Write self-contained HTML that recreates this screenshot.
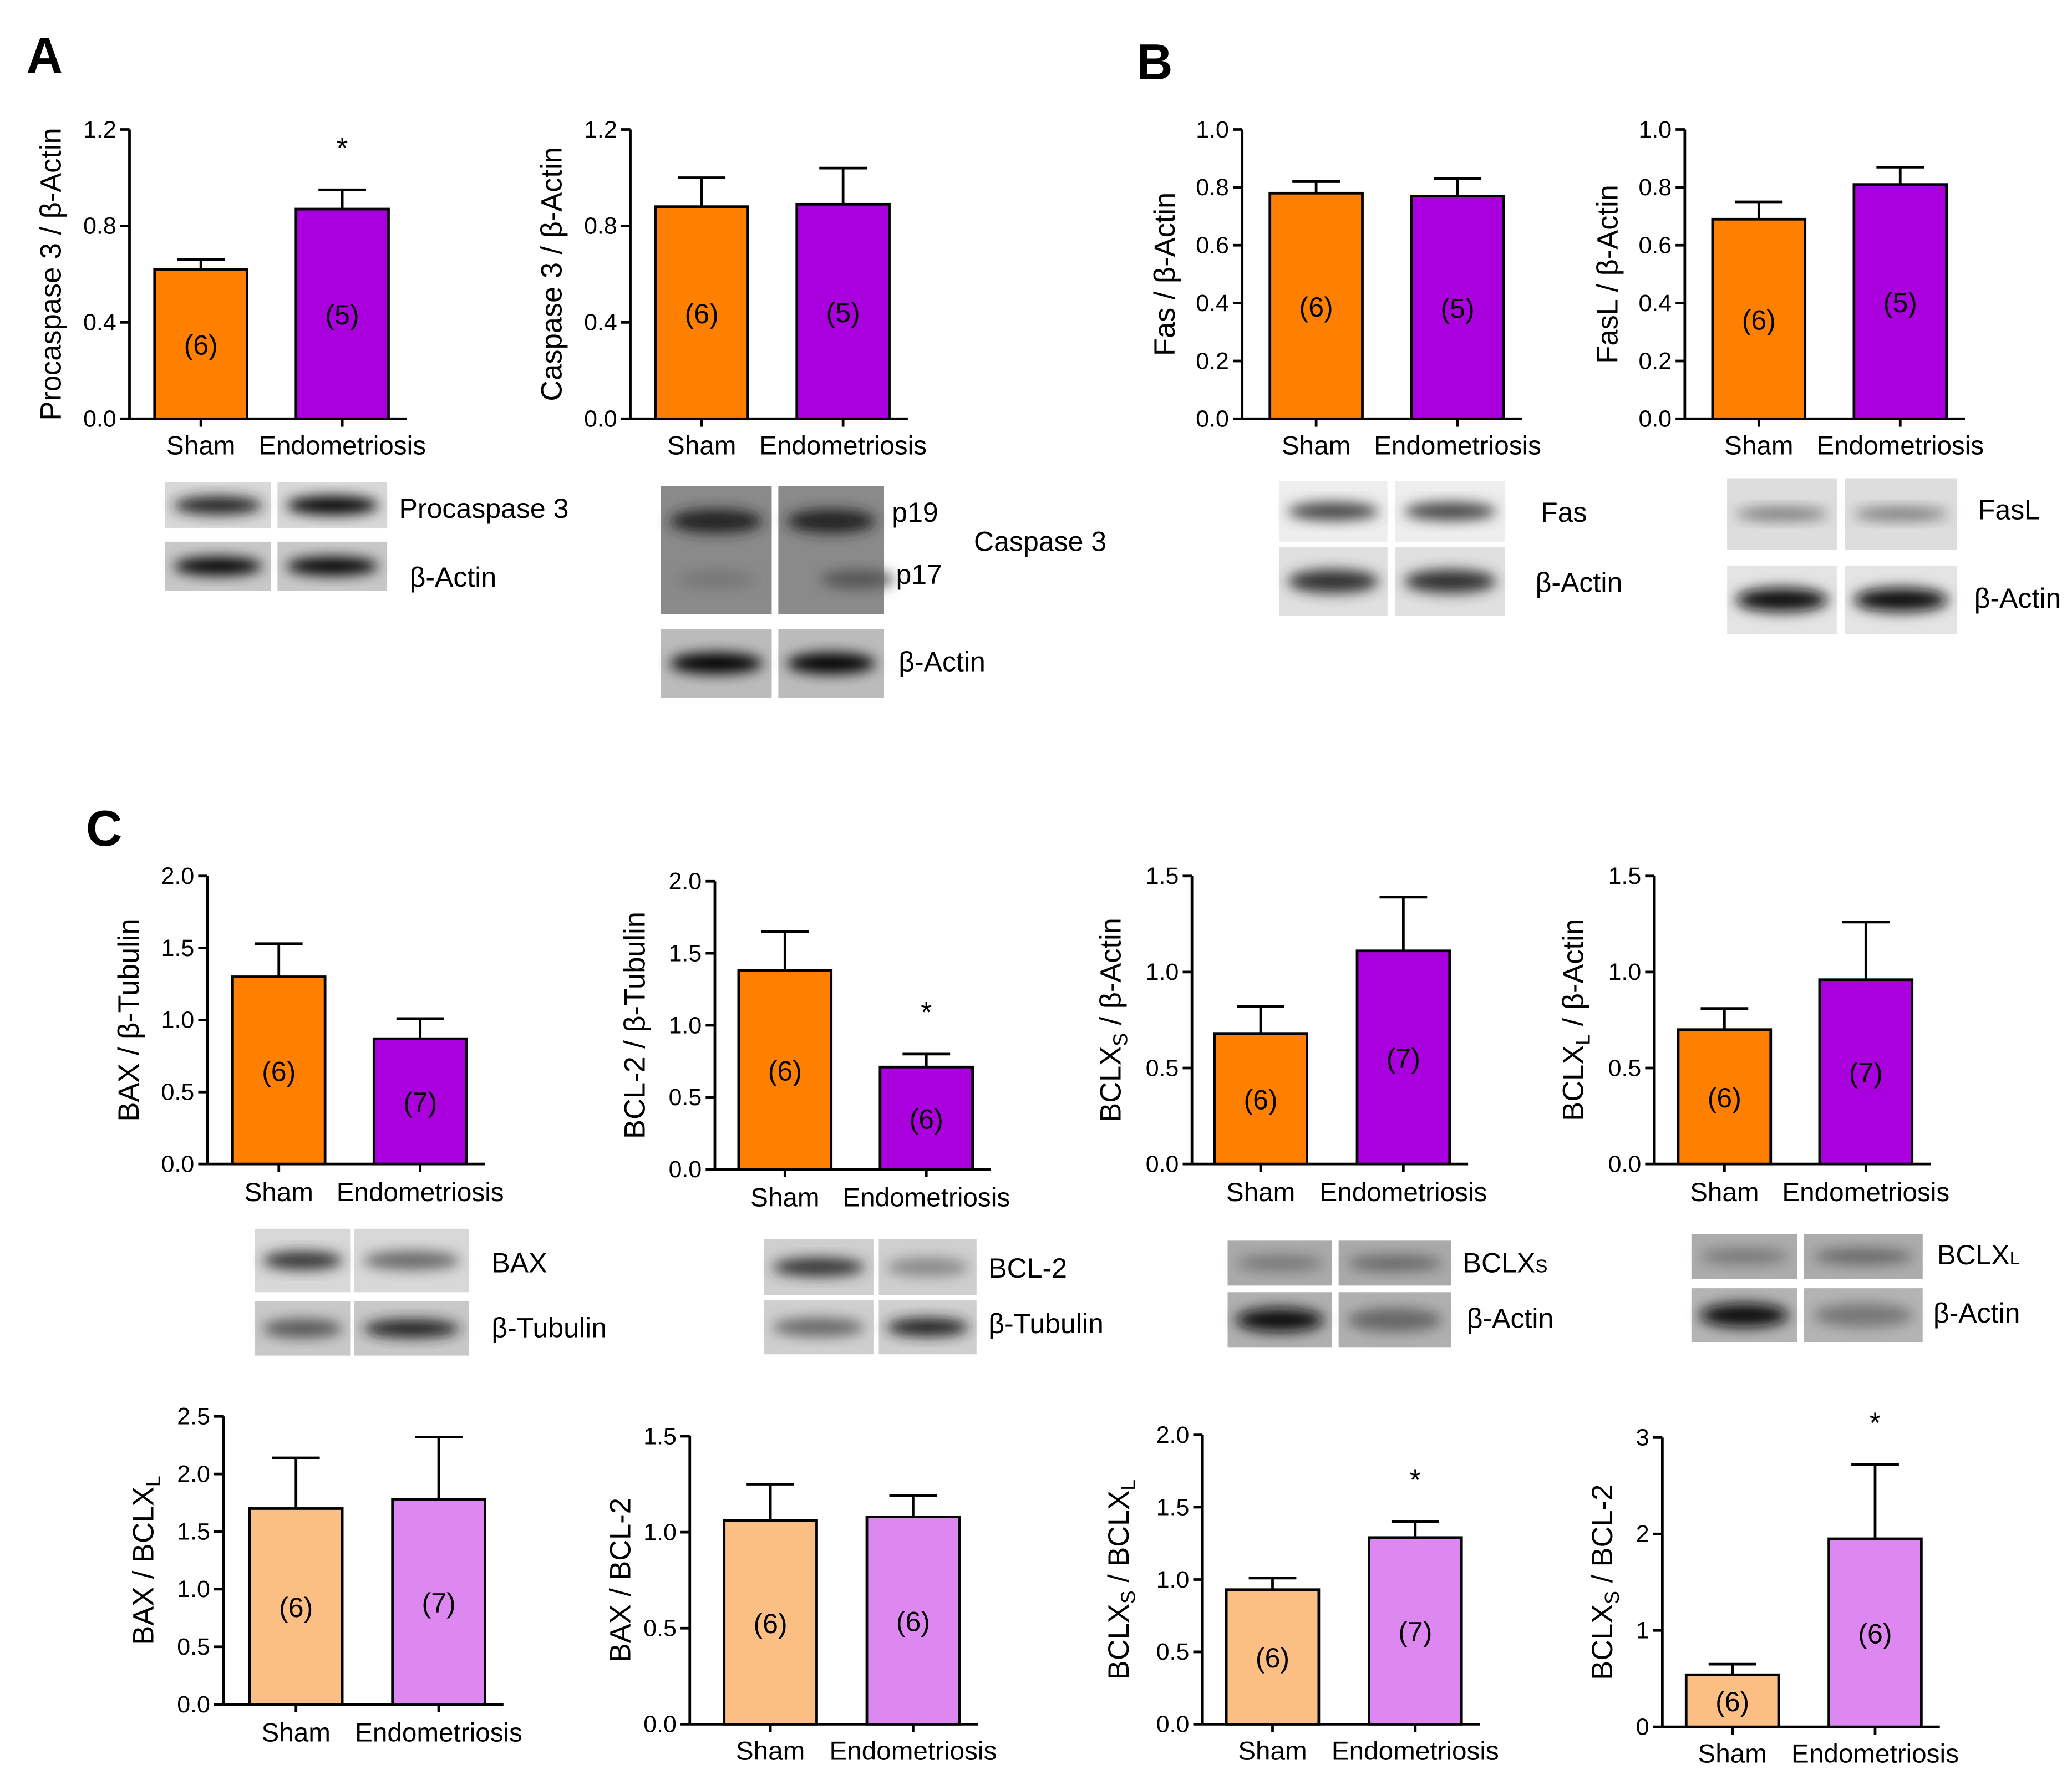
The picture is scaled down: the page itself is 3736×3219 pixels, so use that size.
<!DOCTYPE html>
<html><head><meta charset="utf-8"><style>
html,body{margin:0;padding:0;background:#fff}
svg{display:block}
text{font-family:"Liberation Sans",Arial,sans-serif;fill:#000}
</style></head><body>
<svg id="fig" width="3736" height="3219" viewBox="0 0 1568 1351" xmlns="http://www.w3.org/2000/svg">
<defs>
<filter id="blur" x="-30%" y="-60%" width="160%" height="220%"><feGaussianBlur stdDeviation="5"/></filter>
</defs>
<text x="20" y="55" font-size="38" font-weight="bold">A</text>
<text x="860" y="60" font-size="38" font-weight="bold">B</text>
<text x="65" y="640" font-size="38" font-weight="bold">C</text>
<g id="charts"></g>
<g id="blots"></g>
</svg>
<script>
const categories=['Sham','Endometriosis'];
const procasp3Means=[0.62,0.87], procasp3Err=[0.04,0.08], procasp3N=['(6)','(5)'];
const casp3Means=[0.88,0.89], casp3Err=[0.12,0.15], casp3N=['(6)','(5)'];
const fasMeans=[0.78,0.77], fasErr=[0.04,0.06], fasN=['(6)','(5)'];
const faslMeans=[0.69,0.81], faslErr=[0.06,0.06], faslN=['(6)','(5)'];
const baxMeans=[1.30,0.87], baxErr=[0.23,0.14], baxN=['(6)','(7)'];
const bcl2Means=[1.38,0.71], bcl2Err=[0.27,0.09], bcl2N=['(6)','(6)'];
const bclxsMeans=[0.68,1.11], bclxsErr=[0.14,0.28], bclxsN=['(6)','(7)'];
const bclxlMeans=[0.70,0.96], bclxlErr=[0.11,0.30], bclxlN=['(6)','(7)'];
const baxBclxlMeans=[1.70,1.78], baxBclxlErr=[0.44,0.54], baxBclxlN=['(6)','(7)'];
const baxBcl2Means=[1.06,1.08], baxBcl2Err=[0.19,0.11], baxBcl2N=['(6)','(6)'];
const bclxsBclxlMeans=[0.93,1.29], bclxsBclxlErr=[0.08,0.11], bclxsBclxlN=['(6)','(7)'];
const bclxsBcl2Means=[0.54,1.95], bclxsBcl2Err=[0.11,0.77], bclxsBcl2N=['(6)','(6)'];
const ticks12=['0.0','0.4','0.8','1.2'];
const ticks10=['0.0','0.2','0.4','0.6','0.8','1.0'];
const ticks20=['0.0','0.5','1.0','1.5','2.0'];
const ticks15=['0.0','0.5','1.0','1.5'];
const ticks25=['0.0','0.5','1.0','1.5','2.0','2.5'];
const ticks3=['0','1','2','3'];

const ORANGE='#ff8000',PURPLE='#aa00dd',LORANGE='#fbbf84',LPURPLE='#dd88f0';
const panels=[
 {id:'procaspase3',m:procasp3Means,e:procasp3Err,n:procasp3N,t:ticks12,ax:98,top:98,bot:317,b:[117,224],c:[ORANGE,PURPLE],star:[0,1],lab:['Procaspase 3 / β-Actin'],lx:46,xl:337},
 {id:'caspase3',m:casp3Means,e:casp3Err,n:casp3N,t:ticks12,ax:477,top:98,bot:317,b:[496,603],c:[ORANGE,PURPLE],star:[0,0],lab:['Caspase 3 / β-Actin'],lx:425,xl:337},
 {id:'fas',m:fasMeans,e:fasErr,n:fasN,t:ticks10,ax:940,top:98,bot:317,b:[961,1068],c:[ORANGE,PURPLE],star:[0,0],lab:['Fas / β-Actin'],lx:889,xl:337},
 {id:'fasl',m:faslMeans,e:faslErr,n:faslN,t:ticks10,ax:1275,top:98,bot:317,b:[1296,1403],c:[ORANGE,PURPLE],star:[0,0],lab:['FasL / β-Actin'],lx:1224,xl:337},
 {id:'bax',m:baxMeans,e:baxErr,n:baxN,t:ticks20,ax:157,top:663,bot:881,b:[176,283],c:[ORANGE,PURPLE],star:[0,0],lab:['BAX / β-Tubulin'],lx:105,xl:902},
 {id:'bcl2',m:bcl2Means,e:bcl2Err,n:bcl2N,t:ticks20,ax:541,top:667,bot:885,b:[559,666],c:[ORANGE,PURPLE],star:[0,1],lab:['BCL-2 / β-Tubulin'],lx:488,xl:906},
 {id:'bclxs',m:bclxsMeans,e:bclxsErr,n:bclxsN,t:ticks15,ax:902,top:663,bot:881,b:[919,1027],c:[ORANGE,PURPLE],star:[0,0],lab:['BCLX','S',' / β-Actin'],lx:848,xl:902},
 {id:'bclxl',m:bclxlMeans,e:bclxlErr,n:bclxlN,t:ticks15,ax:1252,top:663,bot:881,b:[1270,1377],c:[ORANGE,PURPLE],star:[0,0],lab:['BCLX','L',' / β-Actin'],lx:1198,xl:902},
 {id:'bax-bclxl',m:baxBclxlMeans,e:baxBclxlErr,n:baxBclxlN,t:ticks25,ax:169,top:1072,bot:1290,b:[189,297],c:[LORANGE,LPURPLE],star:[0,0],lab:['BAX / BCLX','L',''],lx:116,xl:1311},
 {id:'bax-bcl2',m:baxBcl2Means,e:baxBcl2Err,n:baxBcl2N,t:ticks15,ax:522,top:1087,bot:1305,b:[548,656],c:[LORANGE,LPURPLE],star:[0,0],lab:['BAX / BCL-2'],lx:477,xl:1325},
 {id:'bclxs-bclxl',m:bclxsBclxlMeans,e:bclxsBclxlErr,n:bclxsBclxlN,t:ticks20,ax:910,top:1086,bot:1305,b:[928,1036],c:[LORANGE,LPURPLE],star:[0,1],lab:['BCLX','S',' / BCLX','L',''],lx:854,xl:1325},
 {id:'bclxs-bcl2',m:bclxsBcl2Means,e:bclxsBcl2Err,n:bclxsBcl2N,t:ticks3,ax:1258,top:1088,bot:1307,b:[1276,1384],c:[LORANGE,LPURPLE],star:[0,1],lab:['BCLX','S',' / BCL-2'],lx:1220,xl:1327}
];
const NS='http://www.w3.org/2000/svg';
function mk(tag,attrs,parent){const el=document.createElementNS(NS,tag);for(const k in attrs)el.setAttribute(k,attrs[k]);parent.appendChild(el);return el;}
const root=document.getElementById('charts');
const BW=70;
panels.forEach(p=>{
 const g=mk('g',{},root);
 
 
 const yMax=parseFloat(p.t[p.t.length-1]);
 const y=v=>p.bot-v/yMax*(p.bot-p.top);
 const ya=mk('line',{x1:p.ax,y1:p.top,x2:p.ax,y2:p.bot,stroke:'#000','stroke-width':2},g);
 
 
 p.t.forEach(tl=>{
  const v=parseFloat(tl),yy=y(v);
  mk('line',{x1:p.ax-7,y1:yy,x2:p.ax,y2:yy,stroke:'#000','stroke-width':2},g);
  const tt=mk('text',{x:p.ax-10,y:yy+6,'font-size':18,'text-anchor':'end'},g);
  tt.textContent=tl;
  
  
 });
 const xEnd=p.b[1]+BW+14;
 const xa=mk('line',{x1:p.ax,y1:p.bot,x2:xEnd,y2:p.bot,stroke:'#000','stroke-width':2},g);
 
 
 const at=mk('text',{x:0,y:0,'font-size':22,'text-anchor':'middle',transform:`translate(${p.lx},${(p.top+p.bot)/2}) rotate(-90)`},g);
 
 
 p.lab.forEach((s,i)=>{
  const ts=mk('tspan',i%2===1?{'font-size':15,dy:5}:(i>0?{dy:-5}:{}),at);
  ts.textContent=s;
 });
 p.m.forEach((m,i)=>{
  const x0=p.b[i],cx=x0+BW/2;
  const r=mk('rect',{x:x0,y:y(m),width:BW,height:p.bot-y(m),fill:p.c[i],stroke:'#000','stroke-width':2},g);
  
  
  const et=y(m+p.e[i]);
  const eb=mk('path',{d:`M${cx},${y(m)}V${et}M${cx-18},${et}H${cx+18}`,stroke:'#000','stroke-width':2,fill:'none'},g);
  
  
  mk('line',{x1:cx,y1:p.bot,x2:cx,y2:p.bot+6,stroke:'#000','stroke-width':2},g);
  const nl=mk('text',{x:cx,y:y(m/2)+8,'font-size':21,'text-anchor':'middle'},g);
  nl.textContent=p.n[i];
  
  
  const xl=mk('text',{x:cx,y:p.xl+7,'font-size':20,'text-anchor':'middle'},g);
  xl.textContent=categories[i];
  
  
  if(p.star[i]){
   const st=mk('text',{x:cx,y:et-24,'font-size':22,'text-anchor':'middle'},g);
   st.textContent='*';
   
   
  }
 });
});
const blotRows=[
 {n:'procaspase3-blot',lanes:[[125,80],[210,83]],y:365,h:35,bg:'#d8d8d8',bd:['#222','#000'],bh:14,lab:'Procaspase 3',lx:302,ly:392},
 {n:'actin-blot-a1',lanes:[[125,80],[210,83]],y:410,h:37,bg:'#c8c8c8',bd:['#000','#000'],bh:14,lab:'β-Actin',lx:310,ly:444},
 {n:'caspase3-blot',lanes:[[500,84],[589,80]],y:368,h:97,bg:'#8a8a8a',bd:['#222','#222'],bh:18,byOff:-22,lab:'p19',lx:675,ly:395},
 {n:'actin-blot-a2',lanes:[[500,84],[589,80]],y:476,h:52,bg:'#bbbbbb',bd:['#000','#000'],bh:16,lab:'β-Actin',lx:680,ly:508},
 {n:'fas-blot',lanes:[[968,82],[1056,83]],y:364,h:46,bg:'#eeeeee',bd:['#444','#444'],bh:14,lab:'Fas',lx:1166,ly:395},
 {n:'actin-blot-b1',lanes:[[968,82],[1056,83]],y:414,h:52,bg:'#e0e0e0',bd:['#333','#333'],bh:18,lab:'β-Actin',lx:1162,ly:448},
 {n:'fasl-blot',lanes:[[1307,83],[1396,85]],y:362,h:54,bg:'#dddddd',bd:['#777','#777'],bh:10,lab:'FasL',lx:1497,ly:393},
 {n:'actin-blot-b2',lanes:[[1307,83],[1396,85]],y:428,h:52,bg:'#e4e4e4',bd:['#111','#111'],bh:18,lab:'β-Actin',lx:1494,ly:460},
 {n:'bax-blot',lanes:[[193,72],[268,87]],y:930,h:48,bg:'#d8d8d8',bd:['#333','#666'],bh:14,lab:'BAX',lx:372,ly:963},
 {n:'tubulin-blot-c1',lanes:[[193,72],[268,87]],y:985,h:41,bg:'#c8c8c8',bd:['#555','#222'],bh:14,lab:'β-Tubulin',lx:372,ly:1012},
 {n:'bcl2-blot',lanes:[[578,83],[665,74]],y:938,h:42,bg:'#cfcfcf',bd:['#333','#888'],bh:14,lab:'BCL-2',lx:748,ly:967},
 {n:'tubulin-blot-c2',lanes:[[578,83],[665,74]],y:984,h:41,bg:'#cfcfcf',bd:['#666','#222'],bh:14,lab:'β-Tubulin',lx:748,ly:1009},
 {n:'bclxs-blot',lanes:[[929,79],[1013,85]],y:939,h:34,bg:'#aaaaaa',bd:['#777','#666'],bh:12,lab:'BCLXs',lx:1107,ly:963},
 {n:'actin-blot-c3',lanes:[[929,79],[1013,85]],y:978,h:42,bg:'#b0b0b0',bd:['#111','#666'],bh:18,lab:'β-Actin',lx:1110,ly:1005},
 {n:'bclxl-blot',lanes:[[1280,80],[1365,90]],y:934,h:34,bg:'#acacac',bd:['#777','#666'],bh:12,lab:'BCLXL',lx:1466,ly:957},
 {n:'actin-blot-c4',lanes:[[1280,80],[1365,90]],y:975,h:41,bg:'#b4b4b4',bd:['#111','#777'],bh:18,lab:'β-Actin',lx:1463,ly:1001}
];
const broot=document.getElementById('blots');
blotRows.forEach(b=>{
 const g=mk('g',{},broot);
 
 
 b.lanes.forEach((l,i)=>{
  mk('rect',{x:l[0],y:b.y,width:l[1],height:b.h,fill:b.bg},g);
  const cy=b.y+b.h/2+(b.byOff||0);
  mk('ellipse',{cx:l[0]+l[1]/2,cy:cy,rx:l[1]*0.42,ry:b.bh/2,fill:b.bd[i],filter:'url(#blur)'},g);
  if(b.byOff){mk('ellipse',{cx:l[0]+l[1]/2+(i?20:0),cy:b.y+b.h/2+22,rx:l[1]*0.35,ry:7,fill:i?'#555':'#777',filter:'url(#blur)'},g);}
 });
 let t;
 if(b.lab==='BCLXs'||b.lab==='BCLXL'){
  t=mk('text',{x:b.lx,y:b.ly,'font-size':21},g);
  const a=mk('tspan',{},t);a.textContent='BCLX';
  const s=mk('tspan',{'font-size':14},t);s.textContent=b.lab==='BCLXs'?'S':'L';
 } else {
  t=mk('text',{x:b.lx,y:b.ly,'font-size':21},g);
  t.textContent=b.lab;
 }
 
 
 if(b.byOff){
  const t2=mk('text',{x:678,y:442,'font-size':21},g);t2.textContent='p17';
  
  
  const t3=mk('text',{x:737,y:417,'font-size':21},g);t3.textContent='Caspase 3';
  
  
 }
});
</script>
</body></html>
